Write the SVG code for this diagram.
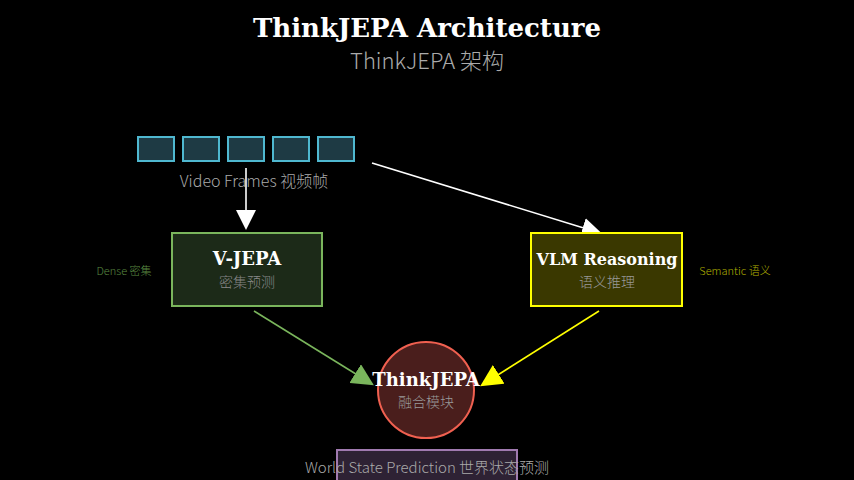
<svg xmlns="http://www.w3.org/2000/svg" width="854" height="480" viewBox="0 0 854 480">
<style>
.t{font-family:"DejaVu Serif","Liberation Serif",serif;font-weight:bold;fill:#fff;text-anchor:middle}
.s{font-family:"Noto Sans CJK SC","Noto Sans",sans-serif;font-weight:300;text-anchor:middle}
.f{fill:#1e3a44;stroke:#4fb8d0;stroke-width:2}
</style>
<defs>
<marker id="ag" viewBox="0 0 10 10" refX="9" refY="5" markerWidth="22" markerHeight="22" markerUnits="userSpaceOnUse" orient="auto"><path d="M0,0L10,5L0,10z" fill="#7ab55c"/></marker>
<marker id="ay" viewBox="0 0 10 10" refX="9" refY="5" markerWidth="22" markerHeight="22" markerUnits="userSpaceOnUse" orient="auto"><path d="M0,0L10,5L0,10z" fill="#ffff00"/></marker>
<marker id="aw2" viewBox="0 0 10 10" refX="9" refY="5" markerWidth="20" markerHeight="20" markerUnits="userSpaceOnUse" orient="auto"><path d="M0,0L10,5L0,10z" fill="#fff"/></marker>
</defs>
<rect width="854" height="480" fill="#000"/>
<text class="t" x="427" y="37" font-size="26">ThinkJEPA Architecture</text>
<text class="s" x="427" y="69" font-size="22" fill="#aaa">ThinkJEPA 架构</text>
<g id="frames">
<rect class="f" x="138" y="137" width="36" height="24"/>
<rect class="f" x="183" y="137" width="36" height="24"/>
<rect class="f" x="228" y="137" width="36" height="24"/>
<rect class="f" x="273" y="137" width="36" height="24"/>
<rect class="f" x="318" y="137" width="36" height="24"/>
<text class="s" x="254" y="187" font-size="16" fill="#aaa">Video Frames 视频帧</text>
</g>
<g id="connectors" stroke-width="1.6">
<line x1="246" y1="168" x2="246" y2="228" stroke="#fff" marker-end="url(#aw2)"/>
<line x1="372" y1="163" x2="600" y2="233" stroke="#fff" marker-end="url(#aw2)"/>
<line x1="254" y1="311" x2="372" y2="384" stroke="#7ab55c" marker-end="url(#ag)"/>
<line x1="599" y1="311" x2="482" y2="385" stroke="#ffff00" marker-end="url(#ay)"/>
</g>
<g id="vjepa">
<rect x="172" y="233" width="150" height="73" fill="#1c2a18" stroke="#7ab55c" stroke-width="2"/>
<text class="t" x="247" y="265" font-size="18">V-JEPA</text>
<text class="s" x="247" y="287" font-size="14" fill="#888">密集预测</text>
<text class="s" x="124" y="275" font-size="11" fill="#5a8a40">Dense 密集</text>
</g>
<g id="vlm">
<rect x="531" y="233" width="151" height="73" fill="#3a3800" stroke="#ffff00" stroke-width="2"/>
<text class="t" x="607" y="265" font-size="16">VLM Reasoning</text>
<text class="s" x="607" y="287" font-size="14" fill="#999">语义推理</text>
<text class="s" x="735" y="275" font-size="11" fill="#b0b000">Semantic 语义</text>
</g>
<g id="fusion">
<circle cx="426" cy="390" r="48" fill="#4a1e1c" stroke="#f06050" stroke-width="2"/>
<text class="t" x="426" y="386" font-size="18">ThinkJEPA</text>
<text class="s" x="426" y="407" font-size="14" fill="#999">融合模块</text>
</g>
<g id="world">
<rect x="337" y="450" width="180" height="40" fill="#2e2234" stroke="#a07ab0" stroke-width="2"/>
<text class="s" x="427" y="473" font-size="15" fill="#aaa">World State Prediction 世界状态预测</text>
</g>
</svg>
